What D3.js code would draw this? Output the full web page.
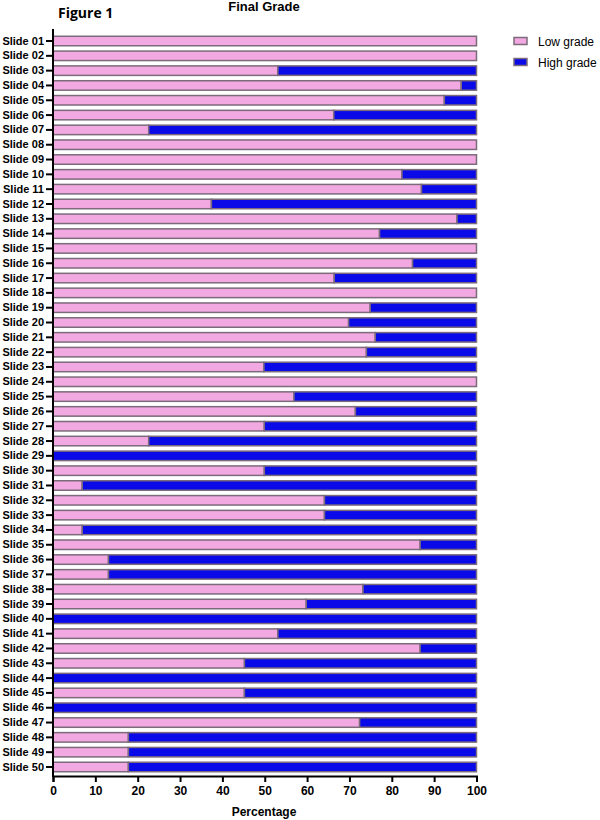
<!DOCTYPE html>
<html>
<head>
<meta charset="utf-8">
<script src="https://cdn.jsdelivr.net/npm/d3@7"></script>
<style>
  body { margin: 0; background: #fff; }
  text { font-family: "Liberation Sans", Arial, sans-serif; }
</style>
</head>
<body>
<div id="chart"></div>
<script>
// data (percent of low grade per slide)
var slides = d3.range(1, 51).map(function (i) { return 'Slide ' + (i < 10 ? '0' + i : i); });
var lowGrade = [100, 100, 53.1, 96.4, 92.4, 66.3, 22.6, 100, 100, 82.4,
                87, 37.4, 95.4, 77.1, 100, 84.9, 66.4, 100, 74.9, 69.8,
                76.1, 74, 49.8, 100, 56.9, 71.4, 49.9, 22.6, 0, 49.9,
                6.9, 64.1, 64.1, 6.9, 86.7, 13.1, 13.1, 73.2, 59.8, 0,
                53.1, 86.7, 45.2, 0, 45.2, 0, 72.4, 17.8, 17.8, 17.8];
var highGrade = lowGrade.map(function (d) { return +(100 - d).toFixed(1); });
var seriesNames = ['Low grade', 'High grade'];
var seriesColors = ['#f2a8e0', '#0a0ae8'];
var xTicks = [0, 10, 20, 30, 40, 50, 60, 70, 80, 90, 100];

var width = 600, height = 820;

var svg = d3.select('#chart').append('svg')
  .attr('width', width)
  .attr('height', height);

// scales
var x = d3.scaleLinear().domain([0, 100]).range([53, 476.5]);
var y = d3.scaleBand().domain(slides).range([33.6, 774.4]).paddingInner(0.36).paddingOuter(0.18);

// stacked table built from the two series
var table = slides.map(function (s, i) {
  return { slide: s, 'Low grade': lowGrade[i], 'High grade': highGrade[i] };
});
var stacked = d3.stack().keys(seriesNames)(table);

var layers = svg.selectAll('g.layer')
  .data(stacked)
  .enter().append('g')
  .attr('class', 'layer')
  .attr('fill', function (d, i) { return seriesColors[i]; });

layers.selectAll('rect')
  .data(function (d) { return d; })
  .enter().append('rect')
  .filter(function (d) { return d[1] - d[0] > 0; })
  .attr('x', function (d) { return x(d[0]); })
  .attr('y', function (d) { return y(d.data.slide); })
  .attr('width', function (d) { return x(d[1]) - x(d[0]); })
  .attr('height', y.bandwidth())
  .attr('stroke', '#7b6b7b')
  .attr('stroke-width', 1.5);

// axes
var xAxis = svg.append('g')
  .attr('transform', 'translate(0,776)')
  .call(d3.axisBottom(x).tickValues(xTicks).tickSize(6).tickPadding(4));
xAxis.select('.domain').attr('stroke-width', 2);
xAxis.selectAll('.tick line').attr('stroke-width', 2);
xAxis.selectAll('.tick text').attr('font-size', 12).attr('font-weight', 'bold').attr('fill', '#000');

var yAxis = svg.append('g')
  .attr('transform', 'translate(53,0)')
  .call(d3.axisLeft(y).tickSize(7).tickPadding(2));
yAxis.select('.domain').attr('d', 'M0,29V777').attr('stroke-width', 2);
yAxis.selectAll('.tick line').attr('stroke-width', 2);
yAxis.selectAll('.tick text').attr('font-size', 11).attr('font-weight', 'bold').attr('fill', '#000');

// titles
svg.append('text')
  .attr('x', 264).attr('y', 11)
  .attr('text-anchor', 'middle')
  .attr('font-size', 13).attr('font-weight', 'bold')
  .text('Final Grade');

svg.append('text')
  .attr('x', 58).attr('y', 18)
  .attr('font-size', 14).attr('font-weight', 'bold')
  .style('font-family', '"Open Sans", sans-serif')
  .text('Figure 1');

svg.append('text')
  .attr('x', 264).attr('y', 816)
  .attr('text-anchor', 'middle')
  .attr('font-size', 12).attr('font-weight', 'bold')
  .text('Percentage');

// legend
var legend = svg.selectAll('g.legend')
  .data(seriesNames)
  .enter().append('g')
  .attr('class', 'legend')
  .attr('transform', function (d, i) { return 'translate(513,' + (41 + i * 21) + ')'; });

legend.append('rect')
  .attr('x', 1).attr('y', -3.5)
  .attr('width', 13).attr('height', 7)
  .attr('fill', function (d, i) { return seriesColors[i]; })
  .attr('stroke', '#7b6b7b').attr('stroke-width', 1.5);

legend.append('text')
  .attr('x', 25).attr('y', 4.5)
  .attr('font-size', 12)
  .text(function (d) { return d; });
</script>
</body>
</html>
